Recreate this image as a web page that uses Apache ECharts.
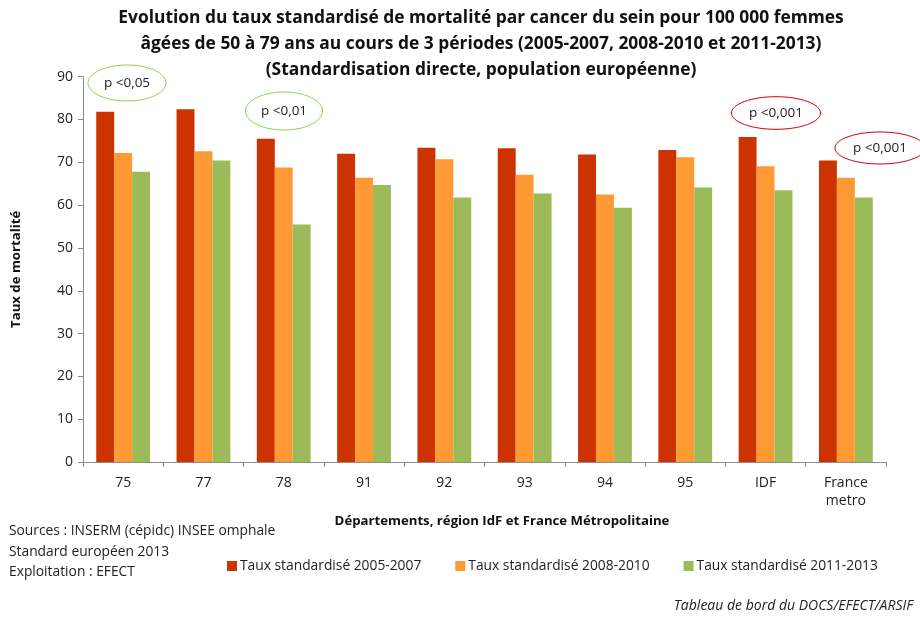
<!DOCTYPE html>
<html>
<head>
<meta charset="utf-8">
<script src="https://cdn.jsdelivr.net/npm/echarts@6/dist/echarts.min.js"></script>
<style>
  html, body { margin: 0; padding: 0; background: #fff; }
  #chart { width: 920px; height: 619px; }
</style>
</head>
<body>
<div id="chart"></div>
<script>
  // categories and values
  var categories = ['75', '77', '78', '91', '92', '93', '94', '95', 'IDF', 'France\nmetro'];
  var taux2005 = [81.8, 82.4, 75.5, 72.0, 73.4, 73.3, 71.8, 72.9, 75.9, 70.4];
  var taux2008 = [72.2, 72.6, 68.8, 66.4, 70.7, 67.1, 62.5, 71.2, 69.1, 66.4];
  var taux2011 = [67.8, 70.4, 55.5, 64.7, 61.8, 62.7, 59.4, 64.1, 63.5, 61.8];
  var seriesNames = ['Taux standardisé 2005-2007', 'Taux standardisé 2008-2010', 'Taux standardisé 2011-2013'];
  var yTicks = { min: 0, max: 90, interval: 10 };

  var font = 'Open Sans';
  var chart = echarts.init(document.getElementById('chart'));

  //ellipse with a p-value label
  function pLabel(cx, cy, rx, ry, color, text) {
    return {
      type: 'group',
      children: [
        { type: 'ellipse', shape: { cx: cx, cy: cy, rx: rx, ry: ry },
          style: { fill: '#fff', stroke: color, lineWidth: 1 } },
        { type: 'text', x: cx, y: cy,
          style: { text: text, fontFamily: font, fontSize: 13.5, fill: '#222', align: 'center', verticalAlign: 'middle' } }
      ]
    };
  }

  var option = {
    backgroundColor: '#fff',
    animation: false,
    title: {
      text: 'Evolution du taux standardisé de mortalité par cancer du sein pour 100 000 femmes\nâgées de 50 à 79 ans au cours de 3 périodes (2005-2007, 2008-2010 et 2011-2013)\n(Standardisation directe, population européenne)',
      left: 476,
      textAlign: 'center',
      top: 0,
      textStyle: { fontFamily: font, fontSize: 17.4, fontWeight: 'bold', color: '#111', lineHeight: 26 }
    },
    legend: {
      data: seriesNames,
      left: 222,
      top: 554,
      itemWidth: 10,
      itemHeight: 10,
      itemGap: 34,
      icon: 'rect',
      textStyle: { fontFamily: font, fontSize: 13.8, color: '#222', padding: [0, 0, 0, -2] }
    },
    grid: { left: 83, right: 34, top: 76.7, bottom: 157 },
    xAxis: {
      type: 'category',
      data: categories,
      name: 'Départements, région IdF et France Métropolitaine',
      nameLocation: 'middle',
      nameGap: 50,
      nameTextStyle: { fontFamily: font, fontSize: 13.2, fontWeight: 'bold', color: '#111', padding: [0, 0, 0, 35] },
      axisLine: { lineStyle: { color: '#8c8c8c' } },
      axisTick: { show: true, length: 5, lineStyle: { color: '#8c8c8c' } },
      axisLabel: { fontFamily: font, fontSize: 14, color: '#222', margin: 12, lineHeight: 18 }
    },
    yAxis: {
      type: 'value',
      min: yTicks.min,
      max: yTicks.max,
      interval: yTicks.interval,
      name: 'Taux de mortalité',
      nameLocation: 'middle',
      nameGap: 60,
      nameTextStyle: { fontFamily: font, fontSize: 13.2, fontWeight: 'bold', color: '#111' },
      axisLine: { show: true, lineStyle: { color: '#8c8c8c' } },
      axisTick: { show: true, length: 5, lineStyle: { color: '#8c8c8c' } },
      splitLine: { show: false },
      axisLabel: { fontFamily: font, fontSize: 14, color: '#222', margin: 10 }
    },
    series: [
      { name: seriesNames[0], type: 'bar', data: taux2005, barGap: '0%', barCategoryGap: '33%',
        itemStyle: { color: '#CC3300' } },
      { name: seriesNames[1], type: 'bar', data: taux2008, barGap: '0%', barCategoryGap: '33%',
        itemStyle: { color: '#FF9933' } },
      { name: seriesNames[2], type: 'bar', data: taux2011, barGap: '0%', barCategoryGap: '33%',
        itemStyle: { color: '#9BBB59' } }
    ],
    graphic: [
      pLabel(127, 83, 39, 18, '#92D050', 'p <0,05'),
      pLabel(284, 111, 38.5, 19, '#92D050', 'p <0,01'),
      pLabel(776, 113, 44.5, 16.3, '#CC0000', 'p <0,001'),
      pLabel(880, 148, 45, 16, '#CC0000', 'p <0,001'),
      { type: 'text', left: 9, top: 521,
        style: { text: 'Sources : INSERM (cépidc) INSEE omphale\nStandard européen 2013\nExploitation : EFECT',
          fontFamily: font, fontSize: 13.8, fill: '#222', lineHeight: 20.5 } },
      { type: 'text', right: 7, top: 599,
        style: { text: 'Tableau de bord du DOCS/EFECT/ARSIF', fontFamily: font, fontSize: 14,
          fontStyle: 'italic', fill: '#222' } }
    ]
  };

  chart.setOption(option);
</script>
</body>
</html>
